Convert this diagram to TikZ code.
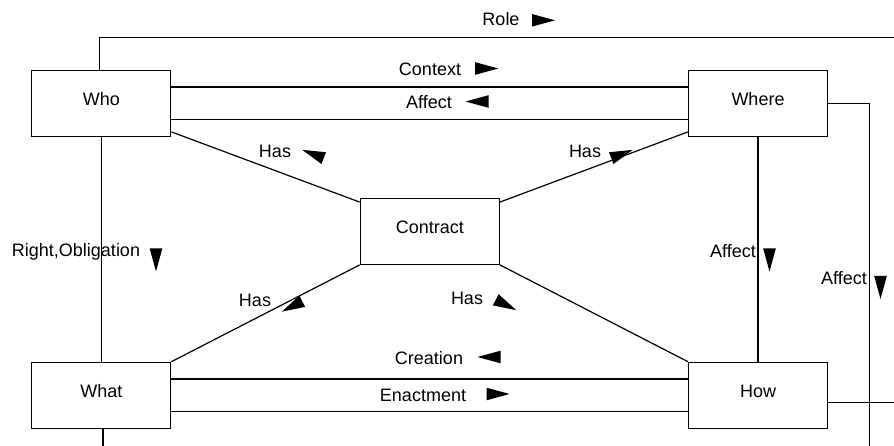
\documentclass[tikz,border=0pt]{standalone}
\usepackage{fontspec}
\setmainfont{Liberation Sans}
\newcommand{\labfont}{\fontsize{18}{21}\selectfont}
\begin{document}
\begin{tikzpicture}[x=1pt,y=-1pt, line width=1.2pt,
  box/.style={draw, minimum width=139pt, minimum height=66pt, inner sep=0pt, text height=12pt, text depth=7pt, font=\labfont},
  lbl/.style={anchor=base, inner sep=0pt, font=\labfont},
  tri/.pic={\fill (-11.5,-6.3) -- (11.5,0) -- (-11.5,6.3) -- cycle;}
]
\useasboundingbox (0,0) rectangle (894,446);
% boxes
\node[box] (who) at (101.3,103.3) {Who};
\node[box] (where) at (758,103.3) {Where};
\node[box] (contract) at (429.8,231.3) {Contract};
\node[box] (what) at (101.3,395.3) {What};
\node[box] (how) at (758,395.3) {How};
% free ends
\coordinate (roleEnd) at (894,37.7);
\coordinate (whereEnd) at (869.3,446);
\coordinate (howEnd) at (894,402.3);
\coordinate (whatEnd) at (103,446);
% connectors
\draw ([xshift=-1.6pt]who.north) |- (roleEnd);
\draw ([yshift=16.3pt]who.east) -- ([yshift=16.3pt]where.west);
\draw ([yshift=-16.3pt]who.east) -- ([yshift=-16.3pt]where.west);
\draw (where.east) -| (whereEnd);
\draw ([yshift=-7pt]how.east) -- (howEnd);
\draw (where.south) -- (how.north);
\draw (who.south) -- (what.north);
\draw ([xshift=1.7pt]what.south) -- (whatEnd);
\draw ([yshift=16.3pt]what.east) -- ([yshift=16.3pt]how.west);
\draw ([yshift=-16.3pt]what.east) -- ([yshift=-16.3pt]how.west);
\draw ([yshift=5pt]who.south east) -- ([yshift=-4.4pt]contract.north west);
\draw ([yshift=5pt]where.south west) -- ([yshift=-4.4pt]contract.north east);
\draw (contract.south west) -- (what.north east);
\draw (contract.south east) -- (how.north west);
% labels
\node[lbl] (lRole) at (501,26) {Role};
\pic at (543.5,20.3) {tri};
\node[lbl] (lContext) at (430,75.7) {Context};
\pic at (486.7,68.5) {tri};
\node[lbl] (lAffect1) at (429,108.3) {Affect};
\pic[rotate=180] at (477,101.5) {tri};
\node[lbl] (lHas1) at (275,157.7) {Has};
\pic[rotate=159] at (313,154) {tri};
\node[lbl] (lHas2) at (585,158) {Has};
\pic[rotate=21] at (622,154) {tri};
\node[lbl] (lRight) at (76,256.7) {Right,Obligation};
\pic[rotate=-90] at (156,260) {tri};
\node[lbl] (lAffect2) at (733,257.3) {Affect};
\pic[rotate=-90] at (769.5,260) {tri};
\node[lbl] (lAffect3) at (844,284.3) {Affect};
\pic[rotate=-90] at (880.5,287.5) {tri};
\node[lbl] (lHas3) at (255,307) {Has};
\pic[rotate=207] at (292,306.5) {tri};
\node[lbl] (lHas4) at (467,305) {Has};
\pic[rotate=-27] at (506,305) {tri};
\node[lbl] (lCreation) at (429,364) {Creation};
\pic[rotate=180] at (489,357) {tri};
\node[lbl] (lEnactment) at (423,401) {Enactment};
\pic at (498,394) {tri};
\end{tikzpicture}
\end{document}
